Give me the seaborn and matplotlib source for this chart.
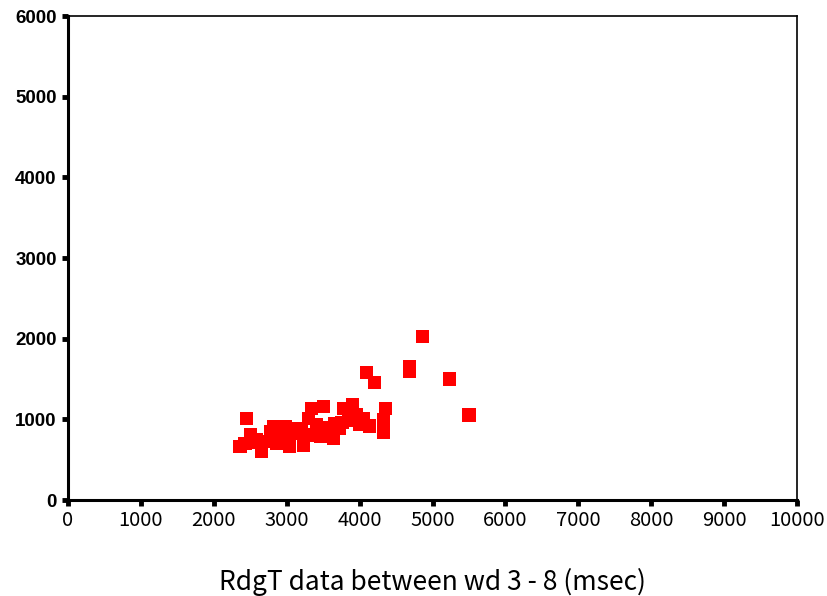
import matplotlib
matplotlib.use("Agg")
import matplotlib.pyplot as plt
import seaborn as sns
import pandas as pd

x_vals = [4860, 4680, 4680, 4090, 4200, 5230, 5500, 2450, 4360, 4330, 4330,
          3500, 3340, 3900, 3780, 4050, 4140, 3660, 3730, 3890, 3300, 3410,
          3460, 3640, 3230, 3200, 3040, 2980, 2820, 2930, 3140, 2660, 2500,
          2360, 2590, 2730, 2860, 3320, 2430, 2780, 2950, 3580, 3950, 3850,
          3050, 2620, 2900, 3420, 3760, 4000]
y_vals = [2024, 1660, 1600, 1583, 1460, 1500, 1054, 1013, 1137, 992, 835,
          1157, 1137, 1178, 1137, 1013, 917, 951, 889, 992, 1013, 930,
          785, 765, 682, 847, 661, 909, 909, 806, 889, 599, 806,
          661, 744, 723, 703, 806, 700, 850, 760, 900, 1060, 1000,
          820, 720, 880, 800, 960, 940]

x_ticks = [0, 1000, 2000, 3000, 4000, 5000, 6000, 7000, 8000, 9000, 10000]
y_ticks = [0, 1000, 2000, 3000, 4000, 5000, 6000]
x_label = "RdgT data between wd 3 - 8 (msec)"

df = pd.DataFrame({"x": x_vals, "y": y_vals})

sns.set_theme(style="white")
plt.rcParams['font.family'] = ['Noto Sans CJK JP', 'DejaVu Sans']
plt.rcParams['text.color'] = 'black'
plt.rcParams['axes.labelcolor'] = 'black'
plt.rcParams['xtick.color'] = 'black'
plt.rcParams['ytick.color'] = 'black'

fig = plt.figure(figsize=(8.27, 5.96), dpi=100)
ax = fig.add_axes([0.082, 0.161, 0.882, 0.812])

sns.scatterplot(data=df, x="x", y="y", ax=ax, marker="s", s=90,
                color="#ff0000", edgecolor="none", linewidth=0)

ax.set_xlim(0, 10000)
ax.set_ylim(0, 6000)
ax.set_xticks(x_ticks)
ax.set_yticks(y_ticks)
ax.set_xticklabels([str(t) for t in x_ticks], fontsize=14.5, color="black")
ax.set_yticklabels([str(t) for t in y_ticks], fontsize=13.5, fontweight="bold",
                   family=["Liberation Sans", "DejaVu Sans"], color="black")
ax.tick_params(axis="both", direction="out", length=4, width=3.5, color="black",
               left=True, bottom=True)
ax.tick_params(axis="y", pad=4)
ax.tick_params(axis="x", pad=3)

for side in ["left", "bottom"]:
    ax.spines[side].set_linewidth(2.2)
    ax.spines[side].set_color("black")
for side in ["top", "right"]:
    ax.spines[side].set_linewidth(1.2)
    ax.spines[side].set_color("black")
    ax.spines[side].set_visible(True)

ax.set_xlabel(x_label, fontsize=19, labelpad=27, color="black")
ax.set_ylabel("")

fig.savefig("out.png", dpi=100)
